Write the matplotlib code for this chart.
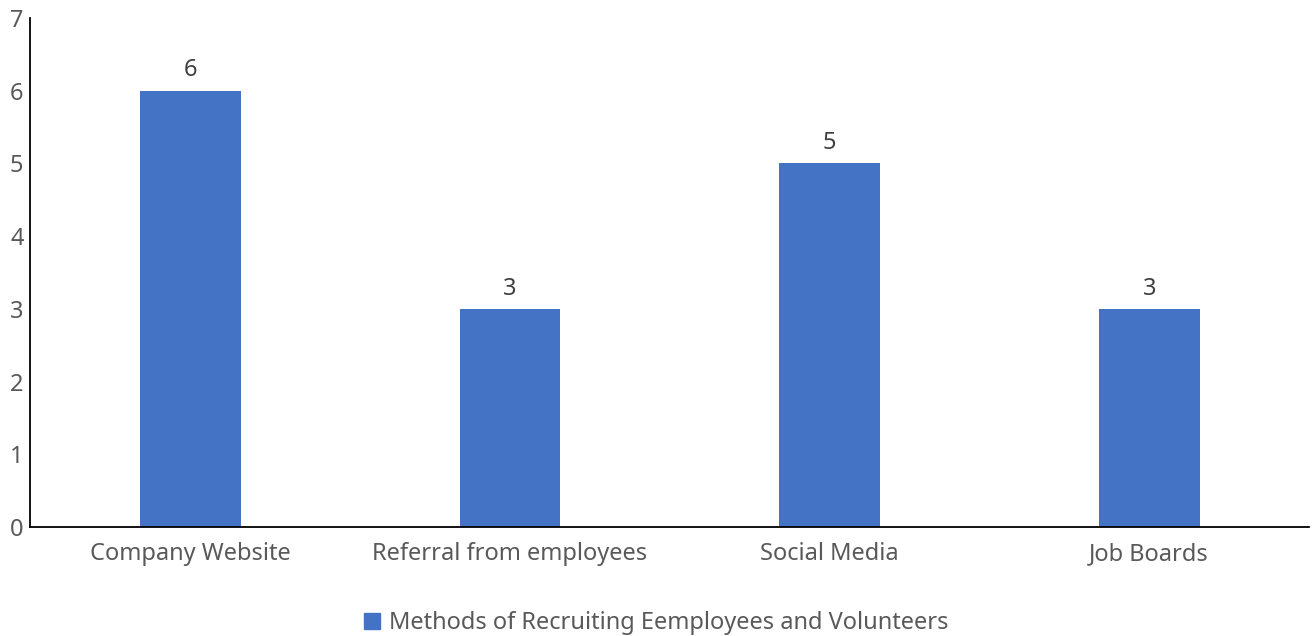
import matplotlib
matplotlib.use("Agg")
import matplotlib.pyplot as plt
from matplotlib.patches import Patch

categories = ["Company Website", "Referral from employees", "Social Media", "Job Boards"]
values = [6, 3, 5, 3]
series_name = "Methods of Recruiting Eemployees and Volunteers"

BLUE = "#4472C4"
GREY = "#595959"

plt.rcParams["font.family"] = ["Noto Sans", "DejaVu Sans"]

fig = plt.figure(figsize=(13.13, 6.36), dpi=100)
ax = fig.add_axes([0.0232, 0.1714, 0.9738, 0.8003])

x = range(len(categories))
bars = ax.bar(x, values, width=0.315, color=BLUE, zorder=2)
for b, v in zip(bars, values):
    ax.annotate(f"{v}", (b.get_x() + b.get_width() / 2, v), xytext=(0, 6),
                textcoords="offset points", ha="center", va="bottom",
                fontsize=17, color="#404040")

ax.set_xlim(-0.5, len(categories) - 0.5)
ax.set_ylim(0, 7)
ax.set_yticks(range(0, 8))
ax.set_xticks(list(x))
ax.set_xticklabels(categories)
ax.tick_params(axis="both", length=0, labelsize=17, colors=GREY)
ax.tick_params(axis="x", pad=11)
ax.tick_params(axis="y", pad=5)

for s in ("top", "right"):
    ax.spines[s].set_visible(False)
ax.spines["left"].set_color("black")
ax.spines["bottom"].set_color("black")
ax.spines["left"].set_linewidth(1.3)
ax.spines["bottom"].set_linewidth(1.3)

fig.legend(handles=[Patch(color=BLUE, label=series_name)], loc="center",
           bbox_to_anchor=(0.5, 0.02), frameon=False, fontsize=17,
           handlelength=0.65, handleheight=0.65, handletextpad=0.4,
           labelcolor=GREY)

fig.savefig("out.png", dpi=100, facecolor="white")
